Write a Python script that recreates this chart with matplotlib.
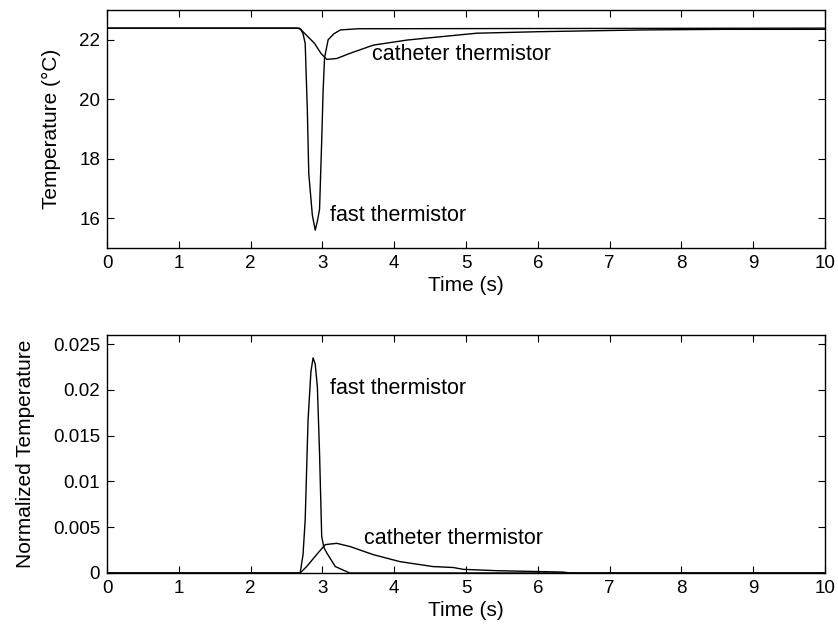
import matplotlib
matplotlib.use("Agg")
import matplotlib.pyplot as plt

# ---- data ----
t_fast_top = [0, 2.65, 2.70, 2.73, 2.76, 2.79, 2.81, 2.86, 2.90, 2.93, 2.96, 2.99, 3.01, 3.03, 3.08, 3.16, 3.25, 3.5, 10]
T_fast_top = [22.39, 22.39, 22.35, 22.2, 21.88, 19.64, 17.5, 16.1, 15.6, 15.9, 16.3, 18.6, 20.3, 21.4, 22.0, 22.2, 22.33, 22.37, 22.39]

t_cath_top = [0, 2.68, 2.77, 2.89, 2.98, 3.06, 3.2, 3.38, 3.71, 4.18, 4.64, 5.15, 6.0, 7.47, 8.6, 10]
T_cath_top = [22.39, 22.39, 22.17, 21.88, 21.54, 21.34, 21.37, 21.54, 21.82, 21.99, 22.1, 22.22, 22.27, 22.33, 22.35, 22.35]

t_fast_bot = [0, 2.69, 2.73, 2.76, 2.80, 2.84, 2.87, 2.90, 2.93, 2.96, 2.99, 3.02, 3.06, 3.18, 3.38, 10]
v_fast_bot = [0, 0, 0.002, 0.0058, 0.0167, 0.022, 0.0235, 0.0228, 0.0203, 0.0131, 0.004, 0.0028, 0.0022, 0.0007, 0, 0]

t_cath_bot = [0, 2.69, 2.78, 2.94, 3.04, 3.2, 3.38, 3.71, 4.08, 4.54, 4.82, 4.96, 5.43, 6.35, 6.45, 10]
v_cath_bot = [0, 0, 0.0007, 0.0022, 0.0031, 0.00324, 0.0029, 0.002, 0.00124, 0.0007, 0.0006, 0.0004, 0.00025, 0.0001, 0, 0]

xticks = list(range(0, 11))
top_yticks = [16, 18, 20, 22]
bot_yticks = [0, 0.005, 0.01, 0.015, 0.02, 0.025]
bot_yticklabels = ["0", "0.005", "0.01", "0.015", "0.02", "0.025"]

plt.rcParams['font.family'] = ['Liberation Sans', 'DejaVu Sans']
TICK_FS = 13.5
LABEL_FS = 15
ANN_FS = 15.5

fig = plt.figure(figsize=(8.38, 6.37), dpi=100)
ax1 = fig.add_axes([0.1277, 0.6107, 0.8568, 0.3736])
ax2 = fig.add_axes([0.1277, 0.1005, 0.8568, 0.3736])

for ax in (ax1, ax2):
    ax.tick_params(direction='in', top=True, right=True, length=5, width=0.8,
                   labelsize=TICK_FS, pad=5)
    for s in ax.spines.values():
        s.set_linewidth(1.0)
    ax.set_xlim(0, 10)
    ax.set_xticks(xticks)
    ax.set_xlabel("Time (s)", fontsize=LABEL_FS, labelpad=3)

ax1.plot(t_fast_top, T_fast_top, color='black', lw=1.0)
ax1.plot(t_cath_top, T_cath_top, color='black', lw=1.0)
ax1.set_ylim(15, 23)
ax1.set_yticks(top_yticks)
ax1.set_ylabel("Temperature (\u00b0C)", fontsize=LABEL_FS, labelpad=13)
ax1.text(3.69, 21.5, "catheter thermistor", fontsize=ANN_FS, va='center', ha='left')
ax1.text(3.1, 16.1, "fast thermistor", fontsize=ANN_FS, va='center', ha='left')

ax2.plot(t_fast_bot, v_fast_bot, color='black', lw=1.0)
ax2.plot(t_cath_bot, v_cath_bot, color='black', lw=1.0)
ax2.set_ylim(0, 0.026)
ax2.set_yticks(bot_yticks)
ax2.set_yticklabels(bot_yticklabels)
ax2.set_ylabel("Normalized Temperature", fontsize=LABEL_FS, labelpad=13)
ax2.text(3.1, 0.0202, "fast thermistor", fontsize=ANN_FS, va='center', ha='left')
ax2.text(3.58, 0.0038, "catheter thermistor", fontsize=ANN_FS, va='center', ha='left')

fig.savefig("out.png", dpi=100)
